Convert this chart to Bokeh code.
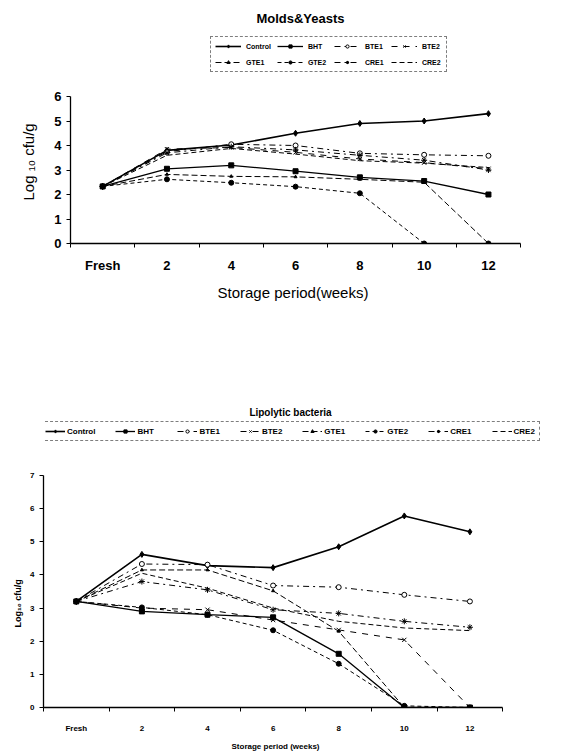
from bokeh.plotting import figure
from bokeh.models import Range1d, FixedTicker, Legend, LegendItem, Label, Title
from bokeh.embed import file_html
from bokeh.resources import INLINE

weeks = ["Fresh", "2", "4", "6", "8", "10", "12"]
series_names = ["Control", "BHT", "BTE1", "BTE2", "GTE1", "GTE2", "CRE1", "CRE2"]

# Molds & Yeasts (log10 cfu/g)
my_control = [2.33, 3.80, 4.02, 4.50, 4.90, 5.00, 5.30]
my_bht     = [2.33, 3.05, 3.19, 2.95, 2.70, 2.55, 2.00]
my_bte1    = [2.33, 3.75, 4.05, 4.00, 3.68, 3.62, 3.58]
my_bte2    = [2.33, 3.85, 3.92, 3.72, 3.45, 3.30, 3.05]
my_gte1    = [2.33, 2.82, 2.74, 2.72, 2.62, 2.50, 0.00]
my_gte2    = [2.33, 2.62, 2.48, 2.32, 2.05, 0.00, 0.00]
my_cre1    = [2.33, 3.70, 3.95, 3.82, 3.60, 3.40, 3.00]
my_cre2    = [2.33, 3.60, 3.88, 3.65, 3.38, 3.28, 3.10]

# Lipolytic bacteria (log10 cfu/g)
lb_control = [3.20, 4.62, 4.28, 4.22, 4.85, 5.78, 5.30]
lb_bht     = [3.20, 2.90, 2.80, 2.72, 1.62, 0.00, 0.00]
lb_bte1    = [3.20, 4.33, 4.31, 3.68, 3.63, 3.40, 3.20]
lb_bte2    = [3.20, 3.00, 2.95, 2.64, 2.34, 2.04, 0.00]
lb_gte1    = [3.20, 4.15, 4.15, 3.52, 2.30, 0.00, 0.00]
lb_gte2    = [3.20, 3.02, 2.80, 2.33, 1.32, 0.05, 0.00]
lb_cre1    = [3.20, 3.80, 3.55, 2.95, 2.84, 2.60, 2.42]
lb_cre2    = [3.20, 4.05, 3.60, 3.00, 2.60, 2.40, 2.32]

styles = {
    "Control": dict(dash="solid", marker="diamond", fill=True, lw=1.6, size=6),
    "BHT":     dict(dash="solid", marker="square", fill=True, lw=1.3, size=5),
    "BTE1":    dict(dash="dashdot", marker="circle", fill=False, lw=1.0, size=5),
    "BTE2":    dict(dash="dashed", marker="x", fill=False, lw=1.0, size=6),
    "GTE1":    dict(dash="6 3", marker="triangle", fill=True, lw=1.0, size=3),
    "GTE2":    dict(dash="4 3", marker="circle", fill=True, lw=1.0, size=5),
    "CRE1":    dict(dash="dashdot", marker="asterisk", fill=False, lw=1.0, size=6),
    "CRE2":    dict(dash="5 3", marker=None, fill=False, lw=1.0, size=0),
}

FONT = "Liberation Sans"
WIDTH = 578


def build(title, data, height, left_px, zero_px, top_tick_px, cat_px, ymax,
          tick_fs, tick_standoff, title_fs, title_pos,
          legend_fs, legend_cols, legend_loc, legend_spacing, legend_glyph_w, legend_standoff,
          ylabel, ylabel_fs, ylabel_offset, ylabel_standoff,
          xlabel, xlabel_fs, xlabel_offset, xlabel_standoff, axis_title_style):
    n = len(weeks)
    frame_w = WIDTH - left_px
    y_end = ymax * zero_px / (zero_px - top_tick_px)
    x_end = frame_w / cat_px
    p = figure(width=WIDTH, height=height, output_backend="svg", toolbar_location=None,
               x_range=Range1d(0, x_end), y_range=Range1d(0, y_end),
               min_border_left=left_px, min_border_right=0, min_border_top=0,
               min_border_bottom=height - zero_px)
    p.outline_line_color = None
    p.grid.visible = False
    xs = [i + 0.5 for i in range(n)]
    items = []
    for name, ys in zip(series_names, data):
        st = styles[name]
        rs = [p.line(xs, ys, line_color="black", line_width=st["lw"], line_dash=st["dash"])]
        if st["marker"]:
            rs.append(p.scatter(xs, ys, marker=st["marker"], size=st["size"], line_color="black",
                                fill_color="black" if st["fill"] else "white", line_width=1))
        items.append(LegendItem(label=name, renderers=rs))
    leg = Legend(items=items, orientation="horizontal", ncols=legend_cols, location=legend_loc,
                 label_text_font=FONT, label_text_font_size=legend_fs,
                 label_text_font_style="bold", label_text_color="black",
                 glyph_width=legend_glyph_w, glyph_height=8,
                 label_standoff=legend_standoff, spacing=legend_spacing, padding=4, margin=0,
                 label_height=10, border_line_color="black", border_line_width=1,
                 border_line_dash="4 1", background_fill_alpha=0)
    p.add_layout(leg, "center")
    p.add_layout(Label(x=title_pos[0], y=title_pos[1], x_units="screen", y_units="screen",
                       text=title, text_font=FONT, text_font_size=title_fs,
                       text_font_style="bold", text_align="center",
                       text_baseline="middle", text_color="black"))

    p.xaxis.bounds = (0, n)
    p.yaxis.bounds = (0, ymax)
    p.xaxis.ticker = FixedTicker(ticks=xs, minor_ticks=list(range(n + 1)))
    p.xaxis.major_label_overrides = {x: w for x, w in zip(xs, weeks)}
    p.xaxis.major_tick_line_color = None
    p.xaxis.minor_tick_out = 4
    p.xaxis.minor_tick_in = 0
    p.xaxis.major_label_standoff = tick_standoff
    p.yaxis.ticker = FixedTicker(ticks=list(range(ymax + 1)))
    p.yaxis.major_tick_out = 4
    p.yaxis.major_tick_in = 0
    p.yaxis.minor_tick_line_color = None
    for ax in (p.xaxis, p.yaxis):
        ax.axis_line_color = "black"
        ax.axis_line_width = 1.3
        ax.major_label_text_font = FONT
        ax.major_label_text_font_size = tick_fs
        ax.major_label_text_font_style = "bold"
        ax.major_label_text_color = "black"

    p.add_layout(Title(text=ylabel, align="left", offset=ylabel_offset,
                       standoff=ylabel_standoff, text_font=FONT, text_font_size=ylabel_fs,
                       text_font_style=axis_title_style, text_color="black"), "left")
    p.add_layout(Title(text=xlabel, align="left", offset=xlabel_offset,
                       standoff=xlabel_standoff, text_font=FONT, text_font_size=xlabel_fs,
                       text_font_style=axis_title_style, text_color="black"), "below")
    return p


p1 = build("Molds&Yeasts",
           [my_control, my_bht, my_bte1, my_bte2, my_gte1, my_gte2, my_cre1, my_cre2],
           height=395, left_px=70, zero_px=243, top_tick_px=96, cat_px=64.3, ymax=6,
           tick_fs="13px", tick_standoff=8, title_fs="13px", title_pos=(230, 225),
           legend_fs="7px", legend_cols=4, legend_loc=(140, 171), legend_spacing=6,
           legend_glyph_w=26, legend_standoff=5,
           ylabel="Log \u2081\u2080 cfu/g", ylabel_fs="15px", ylabel_offset=43,
           ylabel_standoff=30,
           xlabel="Storage period(weeks)", xlabel_fs="15px", xlabel_offset=147,
           xlabel_standoff=12, axis_title_style="normal")

p2 = build("Lipolytic bacteria",
           [lb_control, lb_bht, lb_bte1, lb_bte2, lb_gte1, lb_gte2, lb_cre1, lb_cre2],
           height=360, left_px=43, zero_px=312, top_tick_px=80, cat_px=65.6, ymax=7,
           tick_fs="8px", tick_standoff=10, title_fs="10px", title_pos=(247, 295),
           legend_fs="8px", legend_cols=8, legend_loc=(-3, 266), legend_spacing=20,
           legend_glyph_w=20, legend_standoff=2,
           ylabel="Log\u2081\u2080 cfu/g", ylabel_fs="9px", ylabel_offset=80,
           ylabel_standoff=9,
           xlabel="Storage period (weeks)", xlabel_fs="8px", xlabel_offset=188,
           xlabel_standoff=8, axis_title_style="bold")

open("out.html", "w").write(file_html([p1, p2], INLINE))
